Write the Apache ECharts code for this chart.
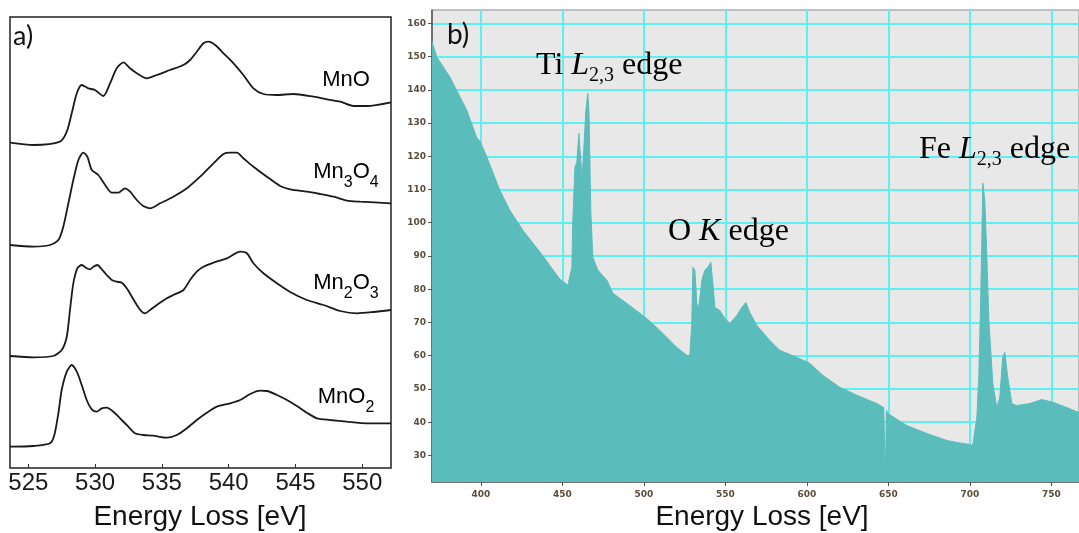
<!DOCTYPE html>
<html>
<head>
<meta charset="utf-8">
<script src="https://cdn.jsdelivr.net/npm/echarts@6/dist/echarts.min.js"></script>
<style>
  html, body { margin: 0; padding: 0; background: #fff; }
  #chart { width: 1079px; height: 533px; }
</style>
</head>
<body>
<div id="chart"></div>
<script>
// ---- a) O K-edge ELNES of manganese oxides, stacked (energy in eV, offset intensity) ----
const spectrumMnO = [
  [523.63,325.3],[525.37,323],[527.37,326.3],[527.88,336.3],[528.25,354.7],[528.63,374.7],
  [529.00,383],[529.49,379.7],[529.99,378],[530.62,372],[531.12,384.7],[531.62,399.7],
  [532.12,405.7],[532.62,399.7],[533.12,394.7],[533.87,389.7],[534.62,393],[535.61,398],
  [536.61,403],[537.11,408],[537.61,416.3],[538.11,424.7],[538.48,426.3],[538.99,423],
  [539.61,414.7],[540.36,404.7],[541.10,393],[541.85,379.7],[542.60,374],[543.61,373],
  [544.85,374],[546.35,371.3],[547.35,368.7],[548.35,366.3],[549.34,362],[550.35,362],[552.15,365.7]
];
const spectrumMn3O4 = [
  [523.63,223],[525.37,221.3],[526.63,223],[527.25,228],[527.62,241.3],[528.00,264.7],
  [528.37,288],[528.75,308],[529.12,315.3],[529.42,311.3],[529.75,298],[530.24,293],
  [530.75,283],[531.25,275.3],[531.74,275.3],[532.24,279.7],[532.62,276.3],[533.12,268],
  [533.61,262],[534.12,259.7],[534.87,264.7],[535.86,271.3],[536.87,279.7],[537.86,291.3],
  [538.86,304.7],[539.61,314],[540.11,315.3],[540.61,315.3],[541.10,309.7],[541.85,301.3],
  [542.86,291.3],[543.85,282],[544.60,278.7],[545.85,276.3],[546.85,274],[547.85,271.3],
  [548.85,267.3],[549.85,266.3],[552.15,264.7]
];
const spectrumMn2O3 = [
  [523.63,112],[525.37,110.7],[526.87,112],[527.50,118],[527.88,131.3],[528.12,158],
  [528.37,184.7],[528.67,199.7],[529.00,203],[529.37,199.7],[529.62,198.7],[529.87,201.3],
  [530.17,203],[530.50,198.7],[530.87,193],[531.25,188],[531.62,186.3],[532.00,185.3],
  [532.37,179.7],[532.75,171.3],[533.12,163],[533.49,156.3],[533.74,154.7],[534.12,158],
  [534.62,163],[535.37,169.7],[535.86,173],[536.61,178],[537.11,188],[537.61,196.3],
  [538.11,201.3],[538.86,205.3],[539.86,209.7],[540.86,216.3],[541.36,214.7],[541.85,204.7],
  [542.60,194.7],[543.61,184.7],[544.60,176],[545.85,168],[547.10,163],[548.35,157],
  [549.60,154.7],[550.84,156],[552.15,158]
];
const spectrumMnO2 = [
  [523.63,21.3],[525.37,22],[526.63,24.7],[526.95,33],[527.25,54.7],[527.50,78],
  [527.88,96.3],[528.25,103],[528.63,96.3],[529.00,83],[529.37,68],[529.75,58.7],
  [530.12,56.3],[530.50,59.7],[530.87,60.3],[531.37,56.3],[531.87,49.7],[532.49,41.3],
  [532.99,34.7],[533.61,33],[534.36,32.3],[535.37,30.3],[536.12,33],[536.87,39.7],
  [537.61,48],[538.36,55.3],[539.11,61.3],[540.11,64.7],[540.86,68],[541.61,74],
  [542.35,77.3],[542.86,77],[543.61,73],[544.36,68],[545.10,62],[545.85,55.3],
  [546.60,49.7],[547.60,48],[548.85,46.3],[550.35,44.7],[552.15,44.7]
];
const oxideNames = ['{m|MnO}', '{m|Mn}{s|3}{m|O}{s|4}', '{m|Mn}{s|2}{m|O}{s|3}', '{m|MnO}{s|2}'];

// ---- b) wide-range EELS spectrum (energy loss in eV, counts) ----
const eelsSpectrum = [
  [370,154.5],[373,149.8],[381,143.8],[391.4,133.8],[397.5,125.5],[399.5,124.5],[403.7,119.7],
  [411.7,109.7],[417.8,103.7],[425.8,97.7],[436.2,91.2],[448.5,83],[453.4,81.2],[455.8,86.6],
  [456.4,100.7],[457.7,116.7],[458.9,118.2],[460.1,126.9],[461.3,118.8],[462,112.8],
  [463.2,122.7],[464.4,133.8],[465.6,138.9],[466.3,133.8],[467.5,102.8],[468.7,89.6],
  [471.8,85.7],[477.3,82.7],[481,78.8],[489.6,75.7],[501.8,71.2],[509.8,67.6],[520.2,62.5],
  [526.4,60.1],[528.2,60.1],[529.4,69.7],[530.1,86.6],[531.3,85.7],[532.5,75.7],[533.7,74.5],
  [535.6,82.7],[537.4,85.7],[539.3,86.6],[541.1,88.1],[542.3,81.8],[543.6,74.5],[546.6,73.6],
  [549.7,71.2],[552.8,69.7],[557,72.1],[560.1,74.5],[562.6,76],[565,73],[569.3,69.1],
  [577.3,64.6],[583.4,61.6],[593.9,59.5],[601.8,57.7],[609.8,54.1],[620.2,50.5],[630.7,48.1],
  [643,45.6],[647.2,44.4],[647.8,44.2],[648.2,22],[648.8,43.6],[649.7,42.6],[661.3,39],
  [673.6,36.6],[685.9,34.5],[692,33.9],[700,33.3],[701.8,33],[704.3,41.4],[705.5,53.5],
  [706.7,77.5],[707.4,95.6],[708,111.9],[709.2,106.7],[710.4,90.8],[711.7,70.6],[714.1,51.7],
  [716.6,44.4],[718.4,47.5],[720.2,59.5],[721.5,61],[723.3,53.5],[725.8,45.6],[728.8,45],
  [736.8,45.6],[744.2,46.8],[751,46],[759.5,44.4],[767,42.9]
];
const edgeNames = ['{r|Ti }{i|L}{s|2,3}{r| edge}', '{r|O }{i|K}{r| edge}', '{r|Fe }{i|L}{s|2,3}{r| edge}'];
const axisTitle = 'Energy Loss [eV]';

const SANS = 'Liberation Sans';
const SERIF = 'Liberation Serif';

const chart = echarts.init(document.getElementById('chart'), null, { renderer: 'canvas' });

const oxideRich = {
  m: { fontFamily: SANS, fontSize: 22, lineHeight: 36, color: '#1a1a1a' },
  s: { fontFamily: SANS, fontSize: 16, lineHeight: 16, color: '#1a1a1a', verticalAlign: 'bottom' }
};
const edgeRich = {
  r: { fontFamily: SERIF, fontSize: 32, lineHeight: 42, color: '#111' },
  i: { fontFamily: SERIF, fontSize: 32, lineHeight: 42, color: '#111', fontStyle: 'italic' },
  s: { fontFamily: SERIF, fontSize: 20, lineHeight: 20, color: '#111', verticalAlign: 'bottom' }
};

function oxideLabel(text, baseline) {
  return { type: 'text', x: 346, y: baseline - 7.6, z: 10,
    style: { text: text, rich: oxideRich, align: 'center', verticalAlign: 'middle' } };
}
function edgeLabel(text, left, baseline) {
  return { type: 'text', x: left, y: baseline - 10.8, z: 10,
    style: { text: text, rich: edgeRich, align: 'left', verticalAlign: 'middle' } };
}
function plainText(text, x, y, size, family, align) {
  return { type: 'text', x: x, y: y, z: 10,
    style: { text: text, fontFamily: family, fontSize: size, fill: '#111',
      align: align, verticalAlign: 'middle' } };
}

const stacked = [spectrumMnO, spectrumMn3O4, spectrumMn2O3, spectrumMnO2];
const smallTickFont = { fontFamily: 'DejaVu Sans', fontSize: 9, fontWeight: 'bold', color: '#5b4c3c' };

chart.setOption({
  animation: false,
  backgroundColor: '#fff',
  grid: [
    { left: 10, top: 17, width: 381, height: 451, show: true,
      borderColor: '#222', borderWidth: 1.5, backgroundColor: '#fff' },
    { left: 432, top: 10, right: 0, height: 472, show: true,
      borderColor: '#8c8c8c', borderWidth: 1, backgroundColor: '#e8e8e8' }
  ],
  xAxis: [
    { gridIndex: 0, type: 'value', min: 523.63, max: 552.15,
      minInterval: 5, maxInterval: 5, splitNumber: 6,
      axisLine: { show: false },
      axisTick: { show: true, inside: true, length: 4, lineStyle: { color: '#333', width: 1 } },
      splitLine: { show: false },
      axisLabel: { showMinLabel: false, showMaxLabel: false, margin: 3,
        fontFamily: SANS, fontSize: 24, color: '#1a1a1a' } },
    { gridIndex: 1, type: 'value', min: 370, max: 767,
      minInterval: 50, maxInterval: 50, splitNumber: 8,
      axisLine: { show: true, lineStyle: { color: '#555', width: 1.5 } },
      axisTick: { show: true, length: 4, lineStyle: { color: '#555' } },
      splitLine: { show: true, showMinLine: false, showMaxLine: false,
        lineStyle: { color: '#5cf0f0', width: 2 } },
      axisLabel: Object.assign({ showMinLabel: false, showMaxLabel: false, margin: 8 }, smallTickFont) }
  ],
  yAxis: [
    { gridIndex: 0, type: 'value', min: 0, max: 451, show: false },
    { gridIndex: 1, type: 'value', min: 22, max: 164,
      minInterval: 10, maxInterval: 10, splitNumber: 14,
      axisLine: { show: true, lineStyle: { color: '#555', width: 1.5 } },
      axisTick: { show: true, length: 4, lineStyle: { color: '#555' } },
      splitLine: { show: true, showMinLine: false, showMaxLine: false,
        lineStyle: { color: '#5cf0f0', width: 2 } },
      axisLabel: Object.assign({ showMinLabel: false, showMaxLabel: false, margin: 6 }, smallTickFont) }
  ],
  series: stacked.map(function (d) {
    return { type: 'line', xAxisIndex: 0, yAxisIndex: 0, data: d,
      showSymbol: false, symbol: 'none', smooth: 0.25,
      lineStyle: { color: '#1a1a1a', width: 1.8 } };
  }).concat([{
    type: 'line', xAxisIndex: 1, yAxisIndex: 1, data: eelsSpectrum,
    showSymbol: false, symbol: 'none', smooth: false,
    lineStyle: { color: '#5bbcbc', width: 1 },
    areaStyle: { color: '#5bbcbc', opacity: 1, origin: 'start' }
  }]),
  graphic: [
    oxideLabel(oxideNames[0], 88),
    oxideLabel(oxideNames[1], 180),
    oxideLabel(oxideNames[2], 291),
    oxideLabel(oxideNames[3], 405),
    edgeLabel(edgeNames[0], 536, 76),
    edgeLabel(edgeNames[1], 668, 242),
    edgeLabel(edgeNames[2], 919, 160),
    plainText('a)', 13, 36, 27, 'Lato', 'left'),
    plainText('b)', 447, 35, 28, 'Lato', 'left'),
    plainText(axisTitle, 200, 517, 28, SANS, 'center'),
    plainText(axisTitle, 762, 517, 28, SANS, 'center')
  ]
});
</script>
</body>
</html>
